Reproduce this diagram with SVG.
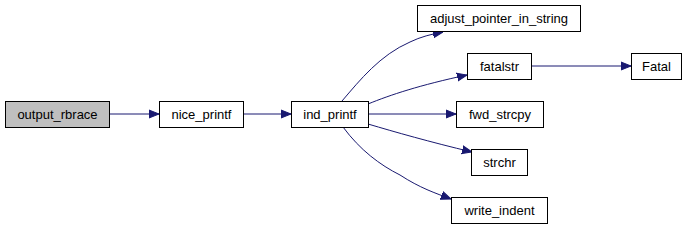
<svg xmlns="http://www.w3.org/2000/svg" width="687" height="226" viewBox="0 0 687 226">
<defs>
<style>
.n rect{fill:#fff;stroke:#000;stroke-width:1}
.n text{font-family:"Liberation Sans",Arial,sans-serif;font-size:13px;fill:#000;text-anchor:middle}
.e path{fill:none;stroke:#191970;stroke-width:1}
</style>
<marker id="ah" viewBox="0 0 10 10" refX="10" refY="5" markerWidth="10" markerHeight="10" markerUnits="userSpaceOnUse" orient="auto">
<path d="M0,1 L10,5 L0,9 Z" fill="#191970" stroke="#191970"/>
</marker>
</defs>
<rect width="687" height="226" fill="#fff"/>
<g id="edges" class="e">
<path d="M109,114 L159,114" marker-end="url(#ah)"/>
<path d="M243,114 L291,114" marker-end="url(#ah)"/>
<path d="M342,101 C360,80 380,55 410,42 C420,37 432,34 443,32" marker-end="url(#ah)"/>
<path d="M368,104 C390,95 420,85 467,75" marker-end="url(#ah)"/>
<path d="M368,114 L456,114" marker-end="url(#ah)"/>
<path d="M368,124 C395,132 430,142 472,152" marker-end="url(#ah)"/>
<path d="M343,127 C360,150 380,165 400,175 C420,188 435,193 451,199" marker-end="url(#ah)"/>
<path d="M531,66 L631,66" marker-end="url(#ah)"/>
</g>
<g id="output_rbrace" class="n"><rect x="5.5" y="101.5" width="104" height="26" style="fill:#bfbfbf"/><text x="57.5" y="119">output_rbrace</text></g>
<g id="nice_printf" class="n"><rect x="159.5" y="101.5" width="84" height="26"/><text x="201.5" y="119">nice_printf</text></g>
<g id="ind_printf" class="n"><rect x="291.5" y="101.5" width="77" height="26"/><text x="330" y="119">ind_printf</text></g>
<g id="adjust_pointer_in_string" class="n"><rect x="417.5" y="5.5" width="163" height="26"/><text x="499" y="23">adjust_pointer_in_string</text></g>
<g id="fatalstr" class="n"><rect x="467.5" y="53.5" width="64" height="26"/><text x="499.5" y="71">fatalstr</text></g>
<g id="Fatal" class="n"><rect x="631.5" y="53.5" width="50" height="26"/><text x="656.5" y="71">Fatal</text></g>
<g id="fwd_strcpy" class="n"><rect x="456.5" y="101.5" width="87" height="26"/><text x="500" y="119">fwd_strcpy</text></g>
<g id="strchr" class="n"><rect x="471.5" y="149.5" width="56" height="26"/><text x="499.5" y="167">strchr</text></g>
<g id="write_indent" class="n"><rect x="451.5" y="197.5" width="96" height="26"/><text x="499.5" y="215">write_indent</text></g>
</svg>
